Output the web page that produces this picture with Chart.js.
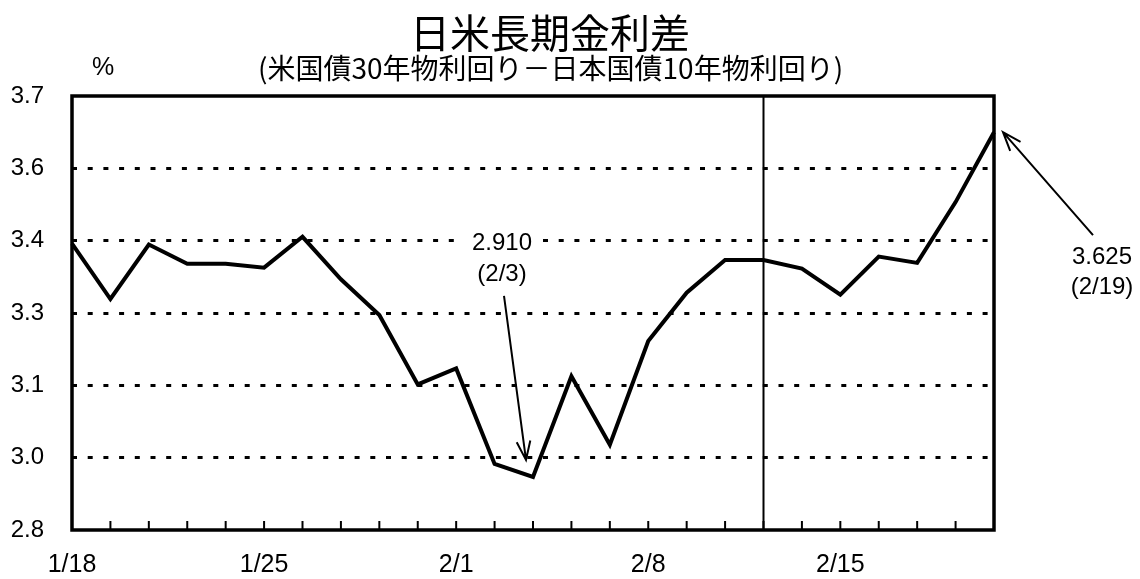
<!DOCTYPE html>
<html>
<head>
<meta charset="utf-8">
<script src="https://cdn.jsdelivr.net/npm/chart.js@4"></script>
<style>
  html, body { margin: 0; padding: 0; background: #fff; }
  #wrap { width: 1140px; height: 579px; }
</style>
</head>
<body>
<div id="wrap"><canvas id="spread"></canvas></div>
<script>
// business days 1/18 - 2/19
const dates = ["1/18","1/19","1/20","1/21","1/22","1/25","1/26","1/27","1/28","1/29",
  "2/1","2/2","2/3","2/4","2/5","2/8","2/9","2/10","2/11","2/12",
  "2/15","2/16","2/17","2/18","2/19"];
const spread = [3.394, 3.279, 3.392, 3.352, 3.352, 3.344, 3.408, 3.320, 3.246, 3.102,
  3.135, 2.937, 2.910, 3.119, 2.977, 3.192, 3.292, 3.360, 3.360, 3.342,
  3.288, 3.367, 3.354, 3.480, 3.625];
const xTickLabels = ["1/18", "1/25", "2/1", "2/8", "2/15"];
const yTickValues = [2.8, 2.95, 3.1, 3.25, 3.4, 3.55, 3.7];
const yTickLabels = ["2.8", "3.0", "3.1", "3.3", "3.4", "3.6", "3.7"];
const markerDate = "2/11";
const notes = [
  { date: "2/3", text: ["2.910", "(2/3)"] },
  { date: "2/19", text: ["3.625", "(2/19)"] }
];

const title = "日米長期金利差";
const subtitle = "(米国債30年物利回り－日本国債10年物利回り)";
const unit = "%";

const latin = "'Liberation Sans', Arial, sans-serif";
const jp = "'Noto Sans CJK JP', sans-serif";

function arrow(ctx, x1, y1, x2, y2) {
  ctx.beginPath();
  ctx.moveTo(x1, y1);
  ctx.lineTo(x2, y2);
  const a = Math.atan2(y2 - y1, x2 - x1);
  const len = 20, spreadA = 0.35;
  ctx.moveTo(x2 - len * Math.cos(a - spreadA), y2 - len * Math.sin(a - spreadA));
  ctx.lineTo(x2, y2);
  ctx.lineTo(x2 - len * Math.cos(a + spreadA), y2 - len * Math.sin(a + spreadA));
  ctx.stroke();
}

// text with a white box behind it, so grid dashes break around it
function boxedText(ctx, str, x, y) {
  const w = ctx.measureText(str).width;
  ctx.fillStyle = "#fff";
  ctx.fillRect(x - w / 2 - 8, y - 13, w + 16, 26);
  ctx.fillStyle = "#000";
  ctx.fillText(str, x, y);
}

const decor = {
  id: "decor",
  afterDraw(chart) {
    const { ctx, chartArea: ca, scales } = chart;
    const xs = scales.x, ys = scales.y;
    ctx.save();

    // inward tick marks
    ctx.strokeStyle = "#000";
    ctx.lineWidth = 2;
    dates.forEach((d, i) => {
      const x = xs.getPixelForValue(i);
      ctx.beginPath();
      ctx.moveTo(x, ca.bottom);
      ctx.lineTo(x, ca.bottom - 9);
      ctx.stroke();
    });

    // vertical marker line
    const mx = xs.getPixelForValue(dates.indexOf(markerDate));
    ctx.lineWidth = 2;
    ctx.beginPath();
    ctx.moveTo(mx, ca.top);
    ctx.lineTo(mx, ca.bottom);
    ctx.stroke();

    // frame
    ctx.lineWidth = 3.5;
    ctx.strokeRect(ca.left, ca.top, ca.right - ca.left, ca.bottom - ca.top);

    // titles
    ctx.fillStyle = "#000";
    ctx.textBaseline = "middle";
    ctx.textAlign = "center";
    ctx.font = "40px " + jp;
    ctx.fillText(title, 550, 33);
    ctx.font = "28px " + jp;
    ctx.textAlign = "left";
    ctx.fillText(subtitle, 258, 68);
    ctx.font = "25px " + latin;
    ctx.textAlign = "center";
    ctx.fillText(unit, 103, 68);

    // annotations
    ctx.font = "24px " + latin;
    ctx.lineWidth = 2;
    const low = notes[0], high = notes[1];
    let i = dates.indexOf(low.date);
    let px = xs.getPixelForValue(i), py = ys.getPixelForValue(spread[i]);
    boxedText(ctx, low.text[0], px - 31, py - 234);
    boxedText(ctx, low.text[1], px - 31, py - 203);
    arrow(ctx, px - 29, py - 181, px - 7, py - 17);

    i = dates.indexOf(high.date);
    px = xs.getPixelForValue(i); py = ys.getPixelForValue(spread[i]);
    ctx.fillText(high.text[0], px + 108, py + 125);
    ctx.fillText(high.text[1], px + 108, py + 155);
    arrow(ctx, px + 99, py + 103, px + 9, py);

    ctx.restore();
  }
};

new Chart(document.getElementById("spread"), {
  type: "line",
  data: {
    labels: dates,
    datasets: [{
      data: spread,
      borderColor: "#000",
      borderWidth: 4,
      pointRadius: 0,
      tension: 0,
      fill: false
    }]
  },
  options: {
    responsive: true,
    maintainAspectRatio: false,
    animation: false,
    layout: { padding: { left: 0, top: 96, right: 146, bottom: 0 } },
    plugins: {
      legend: { display: false },
      title: { display: false },
      tooltip: { enabled: false }
    },
    scales: {
      x: {
        offset: false,
        afterFit: (s) => { s.height = 49; },
        grid: { display: false, drawTicks: false },
        border: { display: false },
        ticks: {
          autoSkip: false,
          maxRotation: 0,
          padding: 20,
          color: "#000",
          font: { family: latin, size: 25 },
          callback: (v, i) => xTickLabels.includes(dates[i]) ? dates[i] : ""
        }
      },
      y: {
        min: 2.8,
        max: 3.7,
        afterFit: (s) => { s.width = 72; },
        afterBuildTicks: (s) => { s.ticks = yTickValues.map(v => ({ value: v })); },
        grid: {
          drawTicks: false,
          lineWidth: 3,
          color: (c) => (c.index === 0 || c.index === yTickValues.length - 1) ? "rgba(0,0,0,0)" : "#000"
        },
        border: { display: false, dash: [5, 10.7] },
        ticks: {
          padding: 28,
          color: "#000",
          font: { family: latin, size: 24 },
          callback: (v, i) => yTickLabels[i]
        }
      }
    }
  },
  plugins: [decor]
});
</script>
</body>
</html>
